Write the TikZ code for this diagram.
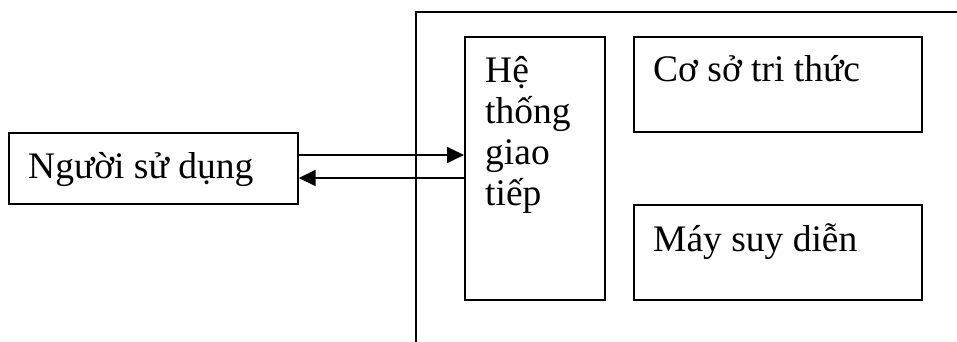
\documentclass[tikz,border=0pt]{standalone}
\usepackage{fontspec}
\setmainfont{Liberation Serif}
\usetikzlibrary{arrows.meta,calc}
\tikzset{
  box/.style={draw, line width=1.7pt, inner sep=0pt, anchor=north west},
  txt/.style={anchor=base west, inner sep=0pt, align=left, font=\fontsize{37.5}{41}\selectfont},
  arr/.style={line width=1.7pt, -{Triangle[length=17pt,width=16pt]}}
}
\begin{document}
\begin{tikzpicture}[x=1pt,y=-1pt]
\useasboundingbox (0,0) rectangle (957,342);
% container
\coordinate (cr) at (957,12);
\coordinate (ctl) at (416,12);
\coordinate (cb) at (416,342);
\draw[line width=1.7pt] (cr) -- (ctl) -- (cb);
% boxes
\node[box, minimum width=289pt, minimum height=71pt] (user) at (8,132) {};
\node[txt] (usert) at ($(user.north west)+(20,46)$) {Người sử dụng};
\node[box, minimum width=140pt, minimum height=263pt] (hgt) at (464,36) {};
\node[txt] (hgtt) at ($(hgt.north west)+(21,169)$) {Hệ\\thống\\giao\\tiếp};
\node[box, minimum width=288pt, minimum height=95pt] (csk) at (633,36) {};
\node[txt] (cskt) at ($(csk.north west)+(20,46)$) {Cơ sở tri thức};
\node[box, minimum width=288pt, minimum height=95pt] (msd) at (633,204) {};
\node[txt] (msdt) at ($(msd.north west)+(20,47)$) {Máy suy diễn};
% arrows
\draw[arr] (user.east |- 0,155) -- (hgt.west |- 0,155);
\draw[arr] (hgt.west |- 0,178) -- (user.east |- 0,178);
\end{tikzpicture}
\end{document}
